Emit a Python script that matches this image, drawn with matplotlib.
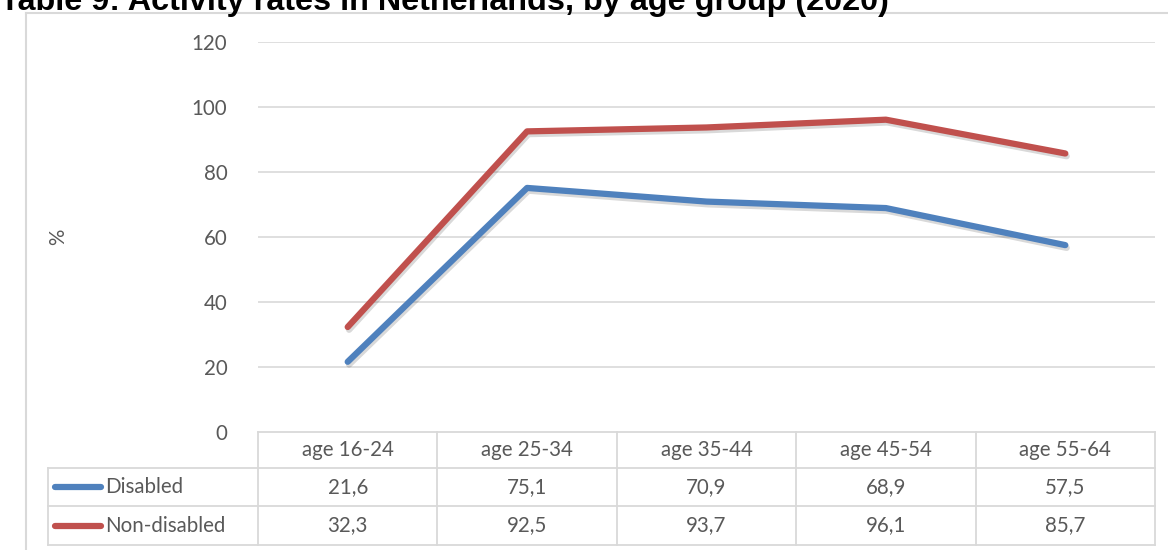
import matplotlib
matplotlib.use("Agg")
import matplotlib.pyplot as plt
import matplotlib.patheffects as pe
from matplotlib.lines import Line2D

categories = ["age 16-24", "age 25-34", "age 35-44", "age 45-54", "age 55-64"]
disabled = [21.6, 75.1, 70.9, 68.9, 57.5]
non_disabled = [32.3, 92.5, 93.7, 96.1, 85.7]
series_names = ["Disabled", "Non-disabled"]
y_ticks = [0, 20, 40, 60, 80, 100, 120]
title = "Table 9: Activity rates in Netherlands, by age group (2020)"

W, H = 1168, 550
fig = plt.figure(figsize=(W / 100, H / 100), dpi=100)
TXT = "#595959"
GRID = "#D9D9D9"
BLUE = "#4F81BD"
RED = "#C0504D"
FONT = "Lato"
FS = 14.8

def fx(px):
    return px / W

def fy(py):
    return 1 - py / H

# outer frame
fig.add_artist(Line2D([fx(26), fx(26)], [fy(13), fy(560)], color=GRID, lw=1.5, transform=fig.transFigure))
fig.add_artist(Line2D([fx(26), fx(1175)], [fy(13), fy(13)], color=GRID, lw=1.5, transform=fig.transFigure))

# title (cut off at top, as in the reference)
fig.text(fx(0), fy(10), title, fontsize=23.3, fontweight="bold", family="Liberation Sans",
         color="black", ha="left", va="baseline")

# main plot axes
L, R, T, B = 258, 1155, 42, 432
ax = fig.add_axes([fx(L), fy(B), fx(R - L), (B - T) / H])
ax.set_xlim(0, len(categories))
ax.set_ylim(0, 120)
for s in ax.spines.values():
    s.set_visible(False)
ax.set_yticks(y_ticks)
ax.set_yticklabels([str(v) for v in y_ticks], fontsize=FS, color=TXT, family=FONT)
ax.tick_params(axis="y", length=0, pad=22)
ax.set_xticks([])
for v in y_ticks[1:]:
    ax.axhline(v, color=GRID, lw=1.2, zorder=0)

xs = [i + 0.5 for i in range(len(categories))]
shadow = [pe.SimpleLineShadow(offset=(1, -2), alpha=0.15, shadow_color="black"), pe.Normal()]
ax.plot(xs, disabled, color=BLUE, lw=4.5, solid_capstyle="round", solid_joinstyle="round",
        path_effects=shadow, zorder=3)
ax.plot(xs, non_disabled, color=RED, lw=4.5, solid_capstyle="round", solid_joinstyle="round",
        path_effects=shadow, zorder=3)

fig.text(fx(58), fy(237), "%", rotation=90, fontsize=FS, color=TXT, family=FONT,
         ha="center", va="center")

# data table below
TL, TT, TB = 48, 432, 545
unit = (R - L) / len(categories)
left_units = (L - TL) / unit
tax = fig.add_axes([fx(TL), fy(TB), fx(R - TL), (TB - TT) / H])
tax.set_xlim(-left_units, len(categories))
tax.set_ylim(3, 0)
tax.axis("off")
row_edges = [0, (468 - TT) / (TB - TT) * 3, (506 - TT) / (TB - TT) * 3, 3]
lw = 1.3
tax.plot([0, 5], [row_edges[0]] * 2, color=GRID, lw=lw, clip_on=False)
for r in row_edges[1:]:
    tax.plot([-left_units, 5], [r, r], color=GRID, lw=lw, clip_on=False)
tax.plot([-left_units] * 2, [row_edges[1], row_edges[3]], color=GRID, lw=lw, clip_on=False)
for i in range(len(categories) + 1):
    tax.plot([i, i], [row_edges[0], row_edges[3]], color=GRID, lw=lw, clip_on=False)

def mid(a, b):
    return (a + b) / 2

for i, c in enumerate(categories):
    tax.text(i + 0.5, mid(row_edges[0], row_edges[1]), c, ha="center", va="center",
             fontsize=FS, color=TXT, family=FONT)
for vals, rr in ((disabled, 1), (non_disabled, 2)):
    for i, v in enumerate(vals):
        tax.text(i + 0.5, mid(row_edges[rr], row_edges[rr + 1]), f"{v:.1f}".replace(".", ","),
                 ha="center", va="center", fontsize=FS, color=TXT, family=FONT)

# legend keys in row headers
key_x0 = -left_units + (55 - TL) / unit
key_x1 = -left_units + (101 - TL) / unit
text_x = -left_units + (105 - TL) / unit
for name, col, rr in ((series_names[0], BLUE, 1), (series_names[1], RED, 2)):
    ym = mid(row_edges[rr], row_edges[rr + 1])
    tax.plot([key_x0, key_x1], [ym, ym], color=col, lw=4.5, solid_capstyle="round", clip_on=False)
    tax.text(text_x, ym, name, ha="left", va="center", fontsize=FS, color=TXT, family=FONT)

fig.savefig("out.png", dpi=100)
